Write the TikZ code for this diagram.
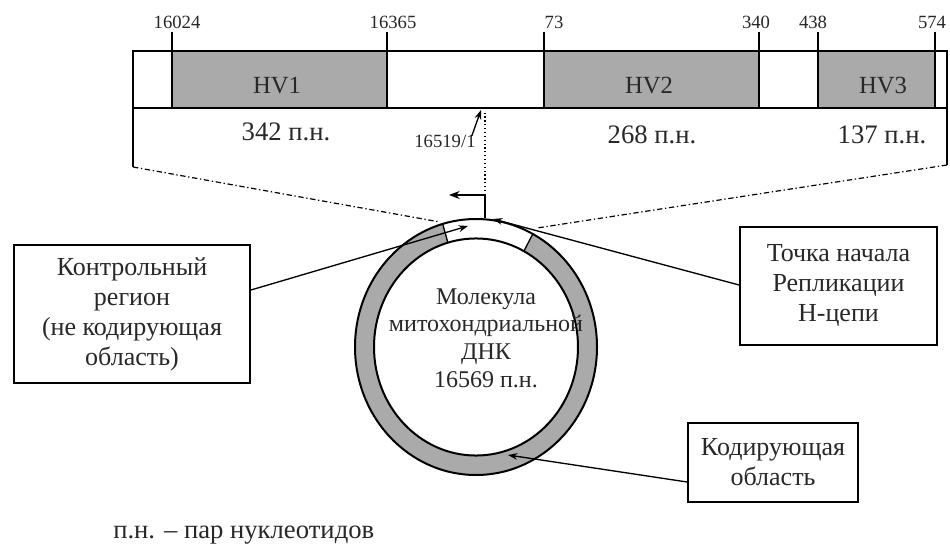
\documentclass[tikz,border=0pt]{standalone}
\usepackage{fontspec}
\setmainfont{Liberation Serif}
\usetikzlibrary{arrows.meta,calc}
\definecolor{hvgray}{RGB}{170,170,170}
\definecolor{txt}{RGB}{40,40,40}
\tikzset{
  barline/.style={line width=1.6pt},
  tick/.style={line width=1.6pt},
  ticklabel/.style={font=\fontsize{14}{16}\selectfont, text=txt, inner sep=0pt},
  biglabel/.style={font=\fontsize{20}{22}\selectfont, text=txt, inner sep=0pt},
  hvlabel/.style={font=\fontsize{18.5}{22}\selectfont, text=txt, inner sep=0pt},
  infobox/.style={draw, line width=1.4pt, align=center, text=txt, font=\fontsize{19.5}{22.5}\selectfont, inner sep=2pt},
  leader/.style={line width=1pt, -{Stealth[length=7pt,width=5pt]}},
  dashdot/.style={line width=0.9pt, dash pattern=on 4pt off 2pt on 1pt off 2pt},
}
\begin{document}
\begin{tikzpicture}[x=0.75pt,y=-0.75pt]
\useasboundingbox (0,0) rectangle (950,552);
\fill[white] (0,0) rectangle (950,552);

% --- linear control region bar ---
\fill[hvgray] (172,51) rectangle (387,108);
\fill[hvgray] (544,51) rectangle (759,108);
\fill[hvgray] (818,51) rectangle (935,108);
\draw[barline] (133,51) rectangle (947,108);
\foreach \x in {172,387,544,759,818,935} \draw[tick] (\x,32) -- (\x,108);

\node[ticklabel] (t1) at (177,22) {16024};
\node[ticklabel] (t2) at (393,22) {16365};
\node[ticklabel] (t3) at (554,22) {73};
\node[ticklabel] (t4) at (756,22) {340};
\node[ticklabel] (t5) at (813,22) {438};
\node[ticklabel] (t6) at (932,22) {574};

\node[hvlabel] (hv1) at (277,86) {HV1};
\node[hvlabel] (hv2) at (649,86) {HV2};
\node[hvlabel] (hv3) at (883,86) {HV3};

\node[biglabel] (l1) at (286,132) {342 п.н.};
\node[biglabel] (l2) at (652,135) {268 п.н.};
\node[biglabel] (l3) at (882,135) {137 п.н.};

\node[ticklabel] (ori) at (445,141) {16519/1};

% --- circular molecule ---
\coordinate (c) at (476,347);
\fill[hvgray, even odd rule] (c) ellipse [x radius=90.75pt, y radius=96pt]
                             (c) ellipse [x radius=76.5pt, y radius=81.4pt];
\fill[white] ($(c)+(62:90.75pt and 96pt)$) arc[start angle=62, end angle=106, x radius=90.75pt, y radius=96pt]
   -- ($(c)+(106:76.5pt and 81.4pt)$) arc[start angle=106, end angle=62, x radius=76.5pt, y radius=81.4pt] -- cycle;
\draw[line width=1.5pt] (c) ellipse [x radius=90.75pt, y radius=96pt];
\draw[line width=1.5pt] (c) ellipse [x radius=76.5pt, y radius=81.4pt];
\draw[line width=1pt] ($(c)+(62:76.5pt and 81.4pt)$) -- ($(c)+(62:90.75pt and 96pt)$);
\draw[line width=1pt] ($(c)+(106:76.5pt and 81.4pt)$) -- ($(c)+(106:90.75pt and 96pt)$);

\node[align=center, text=txt, font=\fontsize{18}{20.8}\selectfont, inner sep=0pt] (mol) at (486,338)
  {Молекула\\митохондриальной\\ДНК\\16569 п.н.};

% --- zoom lines ---
\coordinate (bl) at (133,108);
\coordinate (blc) at (133,167);
\coordinate (cl) at (440,222);
\coordinate (br) at (947,108);
\coordinate (brc) at (947,165);
\coordinate (cr) at (537,228);
\draw[line width=0.9pt] (bl) -- (blc);
\draw[dashdot] (blc) -- (cl);
\draw[line width=0.9pt] (br) -- (brc);
\draw[dashdot] (brc) -- (cr);

% --- origin marker ---
\coordinate (top) at (485,218);
\coordinate (knee) at (485,195);
\coordinate (lefttip) at (449,195);
\coordinate (barpt) at (485,112);
\coordinate (oritip) at (481,110);
\draw[line width=1pt, -{Stealth[length=8pt,width=6pt]}] (top) -- (knee) -- (lefttip);
\draw[line width=0.9pt, dotted] (knee) -- (barpt);
\draw[leader] (ori.north east) ++(-3pt,-1pt) -- (oritip);

% --- boxes ---
\node[infobox, minimum width=177pt, minimum height=103.5pt] (ctrl) at (132,314)
  {Контрольный\\регион\\(не кодирующая\\область)};
\node[infobox, minimum width=147.75pt, minimum height=88.5pt] (rep) at (838.5,286)
  {Точка начала\\Репликации\\H-цепи};
\node[infobox, minimum width=127.5pt, minimum height=59.25pt] (cod) at (773,462.5)
  {Кодирующая\\область};

\coordinate (ctip) at (468,226);
\coordinate (rtip) at (493,219);
\coordinate (ktip) at (508,455);
\draw[leader] (ctrl.east |- 0,290) -- (ctip);
\draw[leader] (rep.west |- 0,285) -- (rtip);
\draw[leader] (cod.west |- 0,482) -- (ktip);

\node[biglabel, anchor=west] (foot) at (113,535) {п.н. – пар нуклеотидов};
\end{tikzpicture}
\end{document}
